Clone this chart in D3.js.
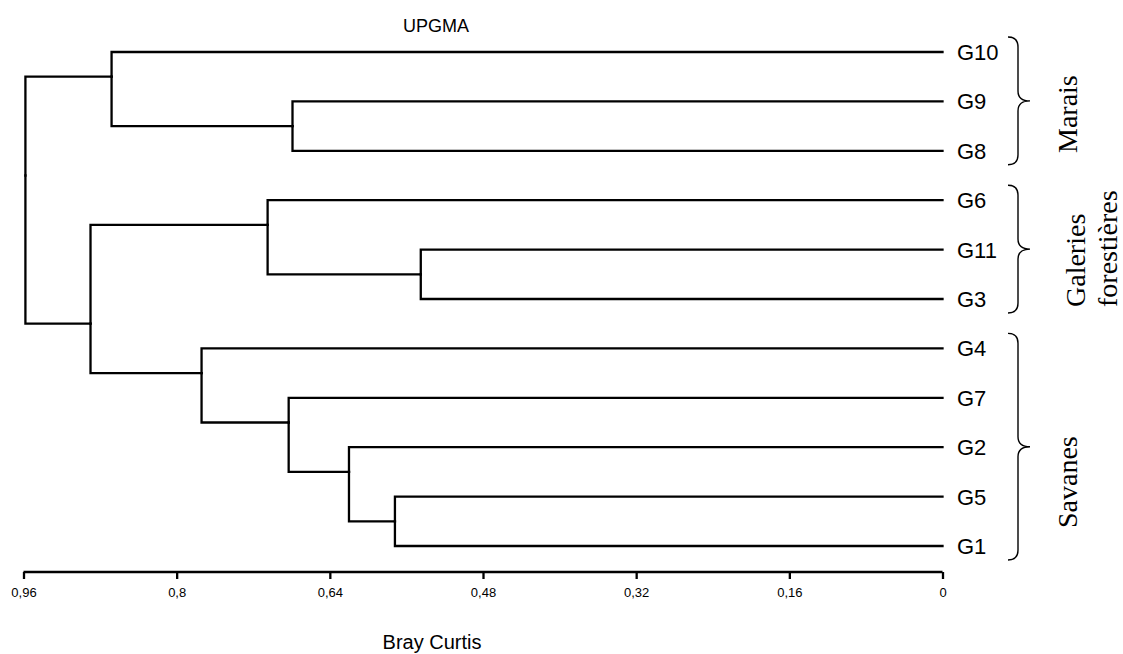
<!DOCTYPE html>
<html lang="fr">
<head>
    <meta charset="UTF-8">
    <title>UPGMA - Bray Curtis</title>
    <script src="https://d3js.org/d3.v7.min.js"></script>
    <style>
        body { margin: 0; background: #fff; }
        .branch { fill: none; stroke: #000; stroke-width: 2.3px; stroke-linecap: square; }
        .leaf-label { font: 22px "Liberation Sans", Arial, sans-serif; }
        .axis path, .axis line { stroke: #000; stroke-width: 2.3px; }
        .axis text { font: 13px "Liberation Sans", Arial, sans-serif; fill: #000; }
        .brace { fill: none; stroke: #000; stroke-width: 1.4px; }
        .group-label { font: 28px "Liberation Serif", "Times New Roman", serif; }
    </style>
</head>
<body>
    <svg width="1123" height="654"></svg>
    <script>
        // feuilles dans l'ordre d'affichage (haut -> bas)
        const leaves = ['G10', 'G9', 'G8', 'G6', 'G11', 'G3', 'G4', 'G7', 'G2', 'G5', 'G1'];

        // fusions UPGMA (distance de Bray-Curtis)
        const clusterIds    = ['c1', 'c2', 'c3', 'c4', 'c5', 'c6', 'c7', 'c8', 'c9', 'c10'];
        const clusterLeft   = ['G5', 'G11', 'G2', 'G9', 'G7', 'G6', 'G4', 'G10', 'c6', 'c8'];
        const clusterRight  = ['G1', 'G3', 'c1', 'G8', 'c3', 'c2', 'c5', 'c4', 'c7', 'c9'];
        const clusterHeight = [0.572, 0.545, 0.620, 0.679, 0.683, 0.705, 0.774, 0.868, 0.890, 0.958];

        const tickValues = [0.96, 0.8, 0.64, 0.48, 0.32, 0.16, 0];

        const groupNames = [['Marais'], ['Galeries', 'forestières'], ['Savanes']];
        const groupFirst = ['G10', 'G6', 'G4'];
        const groupLast  = ['G8', 'G3', 'G1'];

        const svg = d3.select('svg');

        const x = d3.scaleLinear().domain([0.96, 0]).range([23.5, 942.5]);
        const y = d3.scalePoint().domain(leaves).range([52, 546]);

        // construire l'arbre
        const byId = {};
        leaves.forEach(id => { byId[id] = { id: id, h: 0 }; });
        clusterIds.forEach((id, i) => {
            byId[id] = { id: id, h: clusterHeight[i], children: [byId[clusterLeft[i]], byId[clusterRight[i]]] };
        });
        const root = d3.hierarchy(byId[clusterIds[clusterIds.length - 1]]);

        // position verticale : milieu entre la derniere feuille de gauche et la premiere de droite
        root.eachAfter(n => {
            if (!n.children) {
                n.py = y(n.data.id);
            } else {
                const a = n.children[0].leaves(), b = n.children[1].leaves();
                n.py = (y(a[a.length - 1].data.id) + y(b[0].data.id)) / 2;
            }
        });

        svg.append('g')
            .selectAll('path')
            .data(root.links())
            .join('path')
            .attr('class', 'branch')
            .attr('d', d => `M${x(d.target.data.h)},${d.target.py}H${x(d.source.data.h)}V${d.source.py}`);

        svg.append('g')
            .selectAll('text')
            .data(leaves)
            .join('text')
            .attr('class', 'leaf-label')
            .attr('x', 957)
            .attr('y', d => y(d))
            .attr('dy', '0.36em')
            .text(d => d);

        // axe
        const axis = svg.append('g')
            .attr('class', 'axis')
            .attr('transform', 'translate(0,572)')
            .call(d3.axisBottom(x)
                .tickValues(tickValues)
                .tickFormat(d => String(d).replace('.', ','))
                .tickSize(7)
                .tickPadding(9)
                .tickSizeOuter(0));
        axis.select('.domain').attr('d', `M${x(0.96)},0H${x(0)}`);

        svg.append('text')
            .attr('x', 436).attr('y', 32)
            .attr('text-anchor', 'middle')
            .style('font', '18px "Liberation Sans", Arial, sans-serif')
            .text('UPGMA');

        svg.append('text')
            .attr('x', 432).attr('y', 649)
            .attr('text-anchor', 'middle')
            .style('font', '20px "Liberation Sans", Arial, sans-serif')
            .text('Bray Curtis');

        // accolades + noms de groupes
        const labelStart = [153, 307, 528];
        const labelBase = 1077;
        groupNames.forEach((lines, i) => {
            const y0 = y(groupFirst[i]) - 15, y1 = y(groupLast[i]) + 14;
            const ym = (y0 + y1) / 2;
            const xa = 1008, xb = 1018, xc = 1030;
            svg.append('path')
                .attr('class', 'brace')
                .attr('d', `M${xa},${y0}Q${xb},${y0} ${xb},${y0 + 10}V${ym - 10}Q${xb},${ym} ${xc},${ym}` +
                           `Q${xb},${ym} ${xb},${ym + 10}V${y1 - 10}Q${xb},${y1} ${xa},${y1}`);

            const bx = labelBase + (lines.length > 1 ? 8 : 0);
            lines.forEach((t, j) => {
                svg.append('text')
                    .attr('class', 'group-label')
                    .attr('transform', `translate(${bx + j * 32},${labelStart[i]}) rotate(-90)`)
                    .text(t);
            });
        });
    </script>
</body>
</html>
